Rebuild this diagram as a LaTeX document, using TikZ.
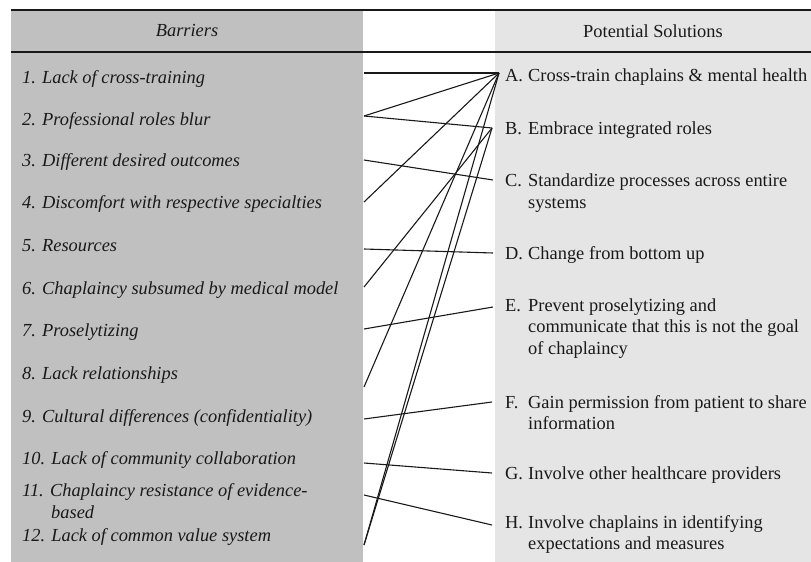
\documentclass[tikz,border=0pt]{standalone}
\usepackage{fontspec}
\setmainfont{Liberation Serif}
\definecolor{leftgrey}{RGB}{192,192,192}
\definecolor{rightgrey}{RGB}{229,229,229}
\definecolor{inkc}{RGB}{25,25,25}
\tikzset{
  txt/.style={font=\fontsize{18.4}{21.5}\selectfont, text=inkc, inner sep=0pt, anchor=base west},
  ltxt/.style={txt, font=\fontsize{18.4}{21.5}\selectfont\itshape},
  hdr/.style={inner sep=0pt, text=inkc, font=\fontsize{18.4}{21.5}\selectfont},
  conn/.style={line width=1.1pt, draw=inkc},
  rulethin/.style={line width=2pt, draw=inkc},
  rulethick/.style={line width=2.6pt, draw=inkc}
}
\begin{document}
\begin{tikzpicture}[x=1pt,y=-1pt]
\useasboundingbox (0,0) rectangle (811,562);
% panels
\fill[leftgrey] (11,10) rectangle (363,562);
\fill[rightgrey] (495,10) rectangle (811,562);
% rules
\draw[rulethin] (11,10) -- (811,10);
\draw[rulethick] (11,52) -- (811,52);
% headers
\node[hdr, font=\fontsize{18.4}{21.5}\selectfont\itshape] (hB) at (187,31) {Barriers};
\node[hdr] (hS) at (653,31) {Potential Solutions};
% barriers
\node[ltxt] (b1) at (22,83) {1. Lack of cross-training};
\node[ltxt] (b2) at (22,125) {2. Professional roles blur};
\node[ltxt] (b3) at (22,166) {3. Different desired outcomes};
\node[ltxt] (b4) at (22,208) {4. Discomfort with respective specialties};
\node[ltxt] (b5) at (22,251) {5. Resources};
\node[ltxt] (b6) at (22,294) {6. Chaplaincy subsumed by medical model};
\node[ltxt] (b7) at (22,336) {7. Proselytizing};
\node[ltxt] (b8) at (22,379) {8. Lack relationships};
\node[ltxt] (b9) at (22,422) {9. Cultural differences (confidentiality)};
\node[ltxt] (b10) at (22,464) {10. Lack of community collaboration};
\node[ltxt] (b11) at (22,496) {\makebox[28pt][l]{11.}Chaplaincy resistance of evidence-};
\node[ltxt] (b11b) at (51,518) {based};
\node[ltxt] (b12) at (22,541) {12. Lack of common value system};
% solutions
\node[txt] (sA) at (505,81) {\makebox[23pt][l]{A.}Cross-train chaplains \& mental health};
\node[txt] (sB) at (505,134) {\makebox[23pt][l]{B.}Embrace integrated roles};
\node[txt] (sC) at (505,186) {\makebox[23pt][l]{C.}Standardize processes across entire};
\node[txt] (sC2) at (528,208) {systems};
\node[txt] (sD) at (505,259) {\makebox[23pt][l]{D.}Change from bottom up};
\node[txt] (sE) at (505,311) {\makebox[23pt][l]{E.}Prevent proselytizing and};
\node[txt] (sE2) at (528,332.5) {communicate that this is not the goal};
\node[txt] (sE3) at (528,354) {of chaplaincy};
\node[txt] (sF) at (505,408) {\makebox[23pt][l]{F.}Gain permission from patient to share};
\node[txt] (sF2) at (528,429.5) {information};
\node[txt] (sG) at (505,479) {\makebox[23pt][l]{G.}Involve other healthcare providers};
\node[txt] (sH) at (505,528) {\makebox[23pt][l]{H.}Involve chaplains in identifying};
\node[txt] (sH2) at (528,549.5) {expectations and measures};
% connector end points
\coordinate (L1) at (364,73);
\coordinate (L2) at (364,116);
\coordinate (L3) at (364,160);
\coordinate (L4) at (364,202);
\coordinate (L5) at (364,249);
\coordinate (L6) at (364,287);
\coordinate (L7) at (364,329);
\coordinate (L8) at (364,387);
\coordinate (L9) at (364,419);
\coordinate (L10) at (364,463);
\coordinate (L11) at (364,495);
\coordinate (L12) at (364,545);
\coordinate (RA) at (499,73);
\coordinate (RB) at (492,128);
\coordinate (RC) at (493,180);
\coordinate (RD) at (493,253);
\coordinate (RE) at (493,307);
\coordinate (RF) at (492,402);
\coordinate (RG) at (492,473);
\coordinate (RH) at (492,525);
% connectors
\draw[conn] (L1) -- (RA);
\draw[conn] (L2) -- (RA);
\draw[conn] (L2) -- (RB);
\draw[conn] (L3) -- (RC);
\draw[conn] (L4) -- (RA);
\draw[conn] (L5) -- (RD);
\draw[conn] (L6) -- (RB);
\draw[conn] (L7) -- (RE);
\draw[conn] (L8) -- (RA);
\draw[conn] (L9) -- (RF);
\draw[conn] (L10) -- (RG);
\draw[conn] (L11) -- (RH);
\draw[conn] (L12) -- (RA);
\draw[conn] (L12) -- (RB);
\end{tikzpicture}
\end{document}
